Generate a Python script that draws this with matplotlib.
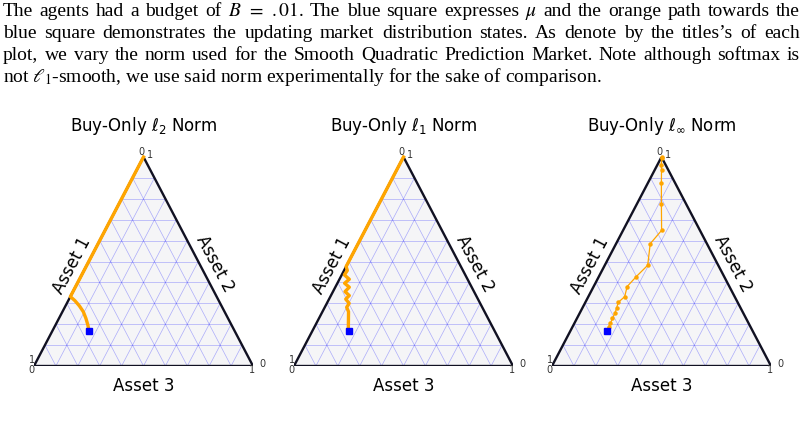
import matplotlib
matplotlib.use("Agg")
import matplotlib.pyplot as plt

# ternary coordinates: asset3 = bottom axis, asset2 = right axis (asset1 = 1 - both)
titles = [r"Buy-Only $\ell_2$ Norm", r"Buy-Only $\ell_1$ Norm", r"Buy-Only $\ell_\infty$ Norm"]
axis_labels = ["Asset 1", "Asset 2", "Asset 3"]

mu_asset3 = 0.167
mu_asset2 = 0.167

l2_asset3 = [0.0, 0.0, 0.0, 0.0, 0.0, 0.0, 0.0, 0.0, 0.0, 0.0,
             0.030, 0.063, 0.095, 0.123, 0.148, 0.166]
l2_asset2 = [1.0, 0.93, 0.85, 0.76, 0.67, 0.58, 0.50, 0.42, 0.36, 0.332,
             0.313, 0.288, 0.260, 0.228, 0.196, 0.170]

l1_asset3 = [0.0, 0.0, 0.0, 0.0, 0.0, 0.0, 0.0, 0.0,
             0.015, 0.012, 0.045, 0.033, 0.064, 0.055, 0.084, 0.076, 0.102, 0.100,
             0.119, 0.164]
l1_asset2 = [1.0, 0.92, 0.83, 0.74, 0.65, 0.57, 0.51, 0.476,
             0.457, 0.436, 0.415, 0.396, 0.377, 0.356, 0.337, 0.320, 0.300, 0.281,
             0.260, 0.168]

linf_asset3 = [0.0, 0.0025, 0.018, 0.032, 0.062, 0.112, 0.176, 0.156, 0.196, 0.171,
               0.153, 0.166, 0.150, 0.157, 0.161, 0.162, 0.165, 0.164, 0.165]
linf_asset2 = [1.0, 0.995, 0.963, 0.936, 0.875, 0.775, 0.649, 0.585, 0.482, 0.428,
               0.380, 0.332, 0.304, 0.276, 0.252, 0.228, 0.204, 0.188, 0.168]

paths = [(l2_asset3, l2_asset2), (l1_asset3, l1_asset2), (linf_asset3, linf_asset2)]

caption = [
    "The agents had a budget of $B$ $=$ $.01$. The blue square expresses $\\mu$ and the orange path towards the",
    "blue square demonstrates the updating market distribution states. As denote by the titles\u2019s of each",
    "plot, we vary the norm used for the Smooth Quadratic Prediction Market. Note although softmax is",
    "not $\\ell_1$-smooth, we use said norm experimentally for the sake of comparison.",
]


def proj(a, b):
    return [x + y / 2 for x, y in zip(a, b)], list(b)


W, H = 805, 438
fig = plt.figure(figsize=(W / 100, H / 100), dpi=100)
renderer = fig.canvas.get_renderer()

# caption text, justified like the paper
baselines = [16, 38, 60, 82]
for i, line in enumerate(caption):
    y = 1 - baselines[i] / H
    if i == len(caption) - 1:
        fig.text(3 / W, y, line, family="Liberation Serif", math_fontfamily="stix",
                 fontsize=14, va="baseline")
        continue
    words = line.split(" ")
    ts = [fig.text(0, y, w, family="Liberation Serif", math_fontfamily="stix",
                   fontsize=14, va="baseline") for w in words]
    widths = [t.get_window_extent(renderer).width for t in ts]
    gap = (800 - 3 - sum(widths)) / (len(ts) - 1)
    x = 3
    for t, w in zip(ts, widths):
        t.set_x(x / W)
        x += w + gap

lefts = [34, 294, 552]
for k in range(3):
    ax = fig.add_axes([lefts[k] / W, (H - 366) / H, 219 / W, 209 / H])
    ax.set_xlim(0, 1)
    ax.set_ylim(0, 1)
    ax.axis("off")

    ax.fill([0, 1, 0.5], [0, 0, 1], color="#f5f5f7", zorder=0)
    for i in range(1, 10):
        v = i / 10
        # constant asset2
        xs, ys = proj([0, 1 - v], [v, v])
        ax.plot(xs, ys, color="blue", lw=0.5, alpha=0.3, zorder=1)
        # constant asset3
        xs, ys = proj([v, v], [0, 1 - v])
        ax.plot(xs, ys, color="blue", lw=0.5, alpha=0.3, zorder=1)
        # constant asset1
        xs, ys = proj([0, 1 - v], [1 - v, 0])
        ax.plot(xs, ys, color="blue", lw=0.5, alpha=0.3, zorder=1)

    ax.plot([0, 1, 0.5, 0], [0, 0, 1, 0], color="#111122", lw=1.7, zorder=2,
            solid_joinstyle="miter")

    xs, ys = proj(*paths[k])
    if k < 2:
        ax.plot(xs, ys, color="orange", lw=2.4, zorder=3, clip_on=False)
    else:
        ax.plot(xs, ys, color="orange", lw=0.9, marker="o", ms=2.2, zorder=3, clip_on=False)
    mx, my = proj([mu_asset3], [mu_asset2])
    ax.plot(mx, my, "s", color="blue", ms=5, zorder=4)

    ax.text(0.5, 1.15, titles[k], ha="center", va="center", fontsize=12,
            transform=ax.transAxes)
    ax.text(0.172, 0.483, axis_labels[0], rotation=62, ha="center", va="center",
            fontsize=12, transform=ax.transAxes)
    ax.text(0.826, 0.491, axis_labels[1], rotation=-62, ha="center", va="center",
            fontsize=12, transform=ax.transAxes)
    ax.text(0.5, -0.096, axis_labels[2], ha="center", va="center", fontsize=12,
            transform=ax.transAxes)

    corner_ticks = [((0.5, 1), "0", (-1.5, 3.5)), ((0.5, 1), "1", (5, 1.5)),
                    ((0, 0), "1", (-1.5, 4.5)), ((0, 0), "0", (-1.5, -2.8)),
                    ((1, 0), "0", (6.5, 1.5)), ((1, 0), "1", (-0.5, -3.2))]
    for pos, lab, off in corner_ticks:
        ax.annotate(lab, pos, xytext=off, textcoords="offset points", ha="center",
                    va="center", fontsize=7, color="#333333")

fig.savefig("out.png", dpi=100)
